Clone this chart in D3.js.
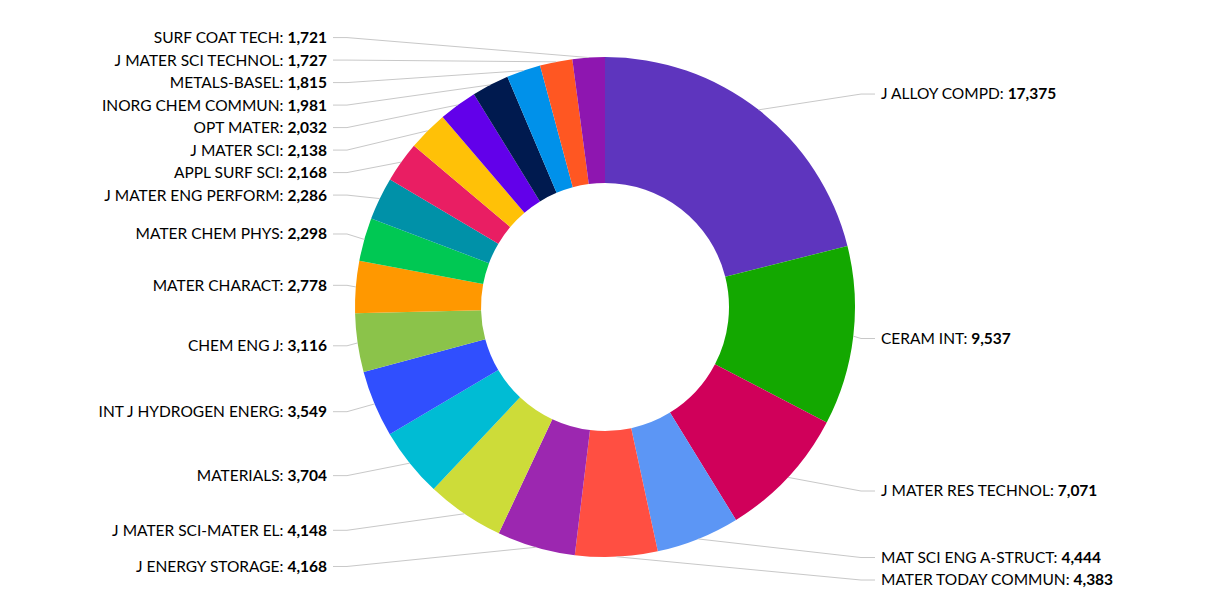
<!DOCTYPE html>
<html lang="en">
<head>
    <meta charset="UTF-8">
    <title>Journals</title>
    <script type="text/javascript" src="https://cdn.jsdelivr.net/npm/d3@7/dist/d3.min.js"></script>
    <style type="text/css">
        body { margin: 0; background: #fff; }
        text { font-family: "Source Sans Pro", Lato, sans-serif; font-size: 15.5px; fill: #000; }
    </style>
</head>
<body>
    <script type="text/javascript">
        //Width and height
        var w = 1220;
        var h = 610;

        var journals = ["J ALLOY COMPD", "CERAM INT", "J MATER RES TECHNOL", "MAT SCI ENG A-STRUCT",
            "MATER TODAY COMMUN", "J ENERGY STORAGE", "J MATER SCI-MATER EL", "MATERIALS",
            "INT J HYDROGEN ENERG", "CHEM ENG J", "MATER CHARACT", "MATER CHEM PHYS",
            "J MATER ENG PERFORM", "APPL SURF SCI", "J MATER SCI", "OPT MATER",
            "INORG CHEM COMMUN", "METALS-BASEL", "J MATER SCI TECHNOL", "SURF COAT TECH"];

        var counts = [17375, 9537, 7071, 4444, 4383, 4168, 4148, 3704, 3549, 3116,
            2778, 2298, 2286, 2168, 2138, 2032, 1981, 1815, 1727, 1721];

        var colors = ["#5e35be", "#13a800", "#d0005a", "#5c96f5", "#ff4f42", "#9c27b0", "#cddc39",
            "#00bcd4", "#304ffe", "#8bc34a", "#ff9800", "#00c853", "#0091a8", "#e91e63",
            "#ffc107", "#6200ea", "#001a4f", "#0091ea", "#ff5722", "#8e16b0"];

        var cx = 605, cy = 307;
        var outerR = 250, innerR = 124;
        var labelR = 270;      // where labels would sit before stacking
        var lineH = 22.5;
        var rightX = 881, leftX = 327;

        var svg = d3.select("body")
            .append("svg")
            .attr("width", w)
            .attr("height", h);

        var pie = d3.pie().sort(null).value(function(d) { return d; });
        var arcs = pie(counts);

        var arc = d3.arc().innerRadius(innerR).outerRadius(outerR);

        var g = svg.append("g").attr("transform", "translate(" + cx + "," + cy + ")");

        //slices
        g.selectAll("path.slice")
            .data(arcs)
            .enter()
            .append("path")
            .attr("class", "slice")
            .attr("d", arc)
            .attr("fill", function(d, i) { return colors[i]; });

        //label positions
        var labels = arcs.map(function(d, i) {
            var a = (d.startAngle + d.endAngle) / 2;
            return {
                i: i,
                a: a,
                right: a < Math.PI,
                y: -labelR * Math.cos(a)
            };
        });

        //stack each side from the top down so they do not overlap
        [true, false].forEach(function(side) {
            var list = labels.filter(function(l) { return l.right === side; })
                .sort(function(a, b) { return a.y - b.y; });
            var prev = -Infinity;
            list.forEach(function(l) {
                l.y = Math.max(l.y, prev + lineH);
                prev = l.y;
            });
        });

        //leader lines
        g.selectAll("polyline")
            .data(labels)
            .enter()
            .append("polyline")
            .attr("points", function(l) {
                var sx = outerR * Math.sin(l.a), sy = -outerR * Math.cos(l.a);
                var ex = (l.right ? rightX - 6 : leftX + 6) - cx;
                var mx = ex + (l.right ? -14 : 14);
                return [[sx, sy], [mx, l.y], [ex, l.y]].join(" ");
            })
            .attr("fill", "none")
            .attr("stroke", "#c8c8c8")
            .attr("stroke-width", 1);

        //labels
        var txt = g.selectAll("text")
            .data(labels)
            .enter()
            .append("text")
            .attr("x", function(l) { return (l.right ? rightX : leftX) - cx; })
            .attr("y", function(l) { return l.y; })
            .attr("dy", "0.35em")
            .attr("text-anchor", function(l) { return l.right ? "start" : "end"; });

        txt.append("tspan").text(function(l) { return journals[l.i] + ": "; });
        txt.append("tspan")
            .attr("font-weight", "bold")
            .text(function(l) { return d3.format(",")(counts[l.i]); });
    </script>
</body>
</html>
